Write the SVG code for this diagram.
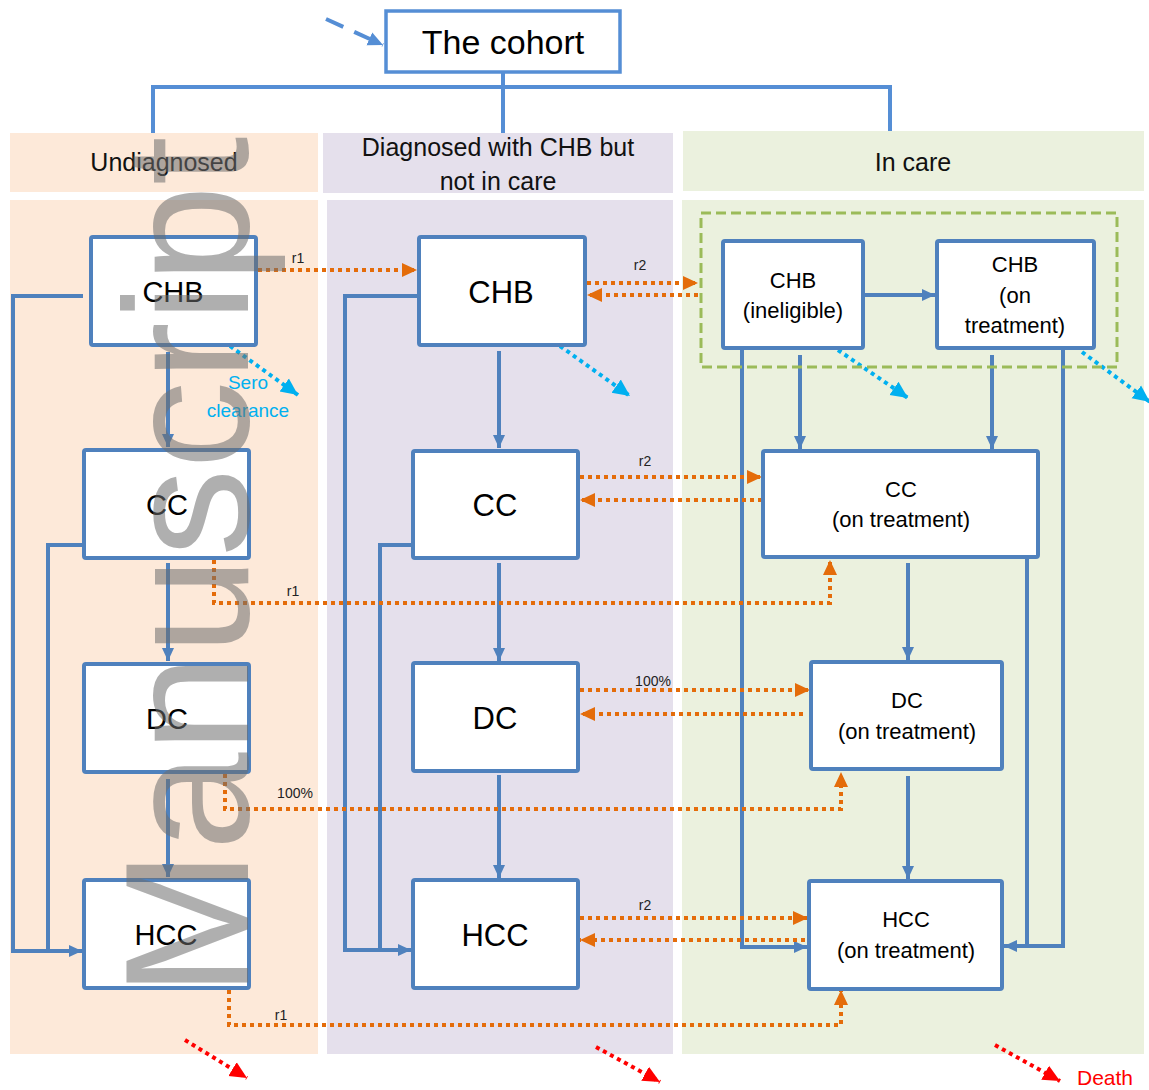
<svg xmlns="http://www.w3.org/2000/svg" width="1149" height="1090" viewBox="0 0 1149 1090">
<style>
.box{fill:#fff;stroke:#4F81BD;stroke-width:4}
.t{font-family:"Liberation Sans",Arial,sans-serif;fill:#000;text-anchor:middle}
.big{font-size:29px}
.sm{font-size:22px}
.lab{font-family:"Liberation Sans",Arial,sans-serif;font-size:14px;fill:#222;text-anchor:middle}
.hdr{font-family:"Liberation Sans",Arial,sans-serif;font-size:25px;fill:#111;text-anchor:middle}
.bl{fill:none;stroke:#4F81BD;stroke-width:4}
.tree{fill:none;stroke:#558ED5;stroke-width:4}
.or{fill:none;stroke:#E46C0A;stroke-width:4;stroke-dasharray:4 4}
.cy{fill:none;stroke:#00B0F0;stroke-width:4;stroke-dasharray:4 4}
.rd{fill:none;stroke:#FF0000;stroke-width:4;stroke-dasharray:4 4}
</style>
<defs>
<marker id="ab" markerUnits="userSpaceOnUse" markerWidth="14" markerHeight="14" refX="13" refY="7" orient="auto"><path d="M0,1 L13,7 L0,13 z" fill="#4F81BD"/></marker>
<marker id="at" markerUnits="userSpaceOnUse" markerWidth="16" markerHeight="16" refX="15" refY="8" orient="auto"><path d="M0,1 L15,8 L0,15 z" fill="#558ED5"/></marker>
<marker id="ao" markerUnits="userSpaceOnUse" markerWidth="16" markerHeight="16" refX="15" refY="8" orient="auto"><path d="M0,1 L15,8 L0,15 z" fill="#E46C0A"/></marker>
<marker id="ac" markerUnits="userSpaceOnUse" markerWidth="18" markerHeight="18" refX="17" refY="9" orient="auto"><path d="M0,1 L17,9 L0,17 z" fill="#00B0F0"/></marker>
<marker id="ar" markerUnits="userSpaceOnUse" markerWidth="18" markerHeight="18" refX="17" refY="9" orient="auto"><path d="M0,1 L17,9 L0,17 z" fill="#FF0000"/></marker>
</defs>

<g id="panels">
<rect x="10" y="133" width="308" height="59" fill="#FDE9D9"/>
<rect x="10" y="200" width="308" height="854" fill="#FDE9D9"/>
<rect x="323" y="133" width="350" height="60" fill="#E5E0EC"/>
<rect x="327" y="200" width="346" height="854" fill="#E5E0EC"/>
<rect x="683" y="131" width="461" height="60" fill="#EBF1DE"/>
<rect x="682" y="200" width="462" height="854" fill="#EBF1DE"/>
<text class="hdr" x="164" y="171">Undiagnosed</text>
<text class="hdr" x="498" y="156">Diagnosed with CHB but</text>
<text class="hdr" x="498" y="190">not in care</text>
<text class="hdr" x="913" y="171">In care</text>
</g>

<g id="connectors">
<path class="tree" d="M153,133 V87 H890 V131 M503,72 V133"/>
<path class="tree" d="M326,19 L383,45" stroke-dasharray="19 12" marker-end="url(#at)"/>
<!-- left column -->
<path class="bl" d="M168,352 V447" marker-end="url(#ab)"/>
<path class="bl" d="M168,563 V661" marker-end="url(#ab)"/>
<path class="bl" d="M168,779 V877" marker-end="url(#ab)"/>
<path class="bl" d="M83,296 H13 V951 H82" marker-end="url(#ab)"/>
<path class="bl" d="M84,545 H48 V951"/>
<!-- middle column -->
<path class="bl" d="M499,351 V448" marker-end="url(#ab)"/>
<path class="bl" d="M499,563 V661" marker-end="url(#ab)"/>
<path class="bl" d="M499,775 V878" marker-end="url(#ab)"/>
<path class="bl" d="M417,296 H345 V950 H411" marker-end="url(#ab)"/>
<path class="bl" d="M413,545 H380 V950"/>
<!-- right column -->
<path class="bl" d="M864,295 H935" marker-end="url(#ab)"/>
<path class="bl" d="M800,355 V449" marker-end="url(#ab)"/>
<path class="bl" d="M992,355 V449" marker-end="url(#ab)"/>
<path class="bl" d="M908,563 V660" marker-end="url(#ab)"/>
<path class="bl" d="M908,776 V879" marker-end="url(#ab)"/>
<path class="bl" d="M742,349 V947 H807" marker-end="url(#ab)"/>
<path class="bl" d="M1063,349 V946 H1004" marker-end="url(#ab)"/>
<path class="bl" d="M1027,558 V946"/>
<!-- orange transitions -->
<path class="or" d="M258,270 H417" marker-end="url(#ao)"/>
<path class="or" d="M587,283 H698" marker-end="url(#ao)"/>
<path class="or" d="M698,295 H587" marker-end="url(#ao)"/>
<path class="or" d="M580,477 H762" marker-end="url(#ao)"/>
<path class="or" d="M762,500 H580" marker-end="url(#ao)"/>
<path class="or" d="M214,560 V603 H830 V560" marker-end="url(#ao)"/>
<path class="or" d="M580,690 H810" marker-end="url(#ao)"/>
<path class="or" d="M803,714 H580" marker-end="url(#ao)"/>
<path class="or" d="M225,774 V809 H841 V772" marker-end="url(#ao)"/>
<path class="or" d="M580,918 H808" marker-end="url(#ao)"/>
<path class="or" d="M805,940 H580" marker-end="url(#ao)"/>
<path class="or" d="M229,990 V1025 H841 V990" marker-end="url(#ao)"/>
<text class="lab" x="298" y="263">r1</text>
<text class="lab" x="640" y="270">r2</text>
<text class="lab" x="645" y="466">r2</text>
<text class="lab" x="293" y="596">r1</text>
<text class="lab" x="653" y="686">100%</text>
<text class="lab" x="295" y="798">100%</text>
<text class="lab" x="645" y="910">r2</text>
<text class="lab" x="281" y="1020">r1</text>
<!-- sero clearance -->
<path class="cy" d="M230,346 L298,395" marker-end="url(#ac)"/>
<path class="cy" d="M560,346 L630,396" marker-end="url(#ac)"/>
<path class="cy" d="M838,350 L908,398" marker-end="url(#ac)"/>
<path class="cy" d="M1082,352 L1150,402" marker-end="url(#ac)"/>
<text x="248" y="389" font-family="Liberation Sans, Arial, sans-serif" font-size="19" fill="#00B0F0" text-anchor="middle">Sero</text>
<text x="248" y="417" font-family="Liberation Sans, Arial, sans-serif" font-size="19" fill="#00B0F0" text-anchor="middle">clearance</text>
<!-- death -->
<path class="rd" d="M185,1040 L247,1078" marker-end="url(#ar)"/>
<path class="rd" d="M596,1047 L660,1082" marker-end="url(#ar)"/>
<path class="rd" d="M995,1045 L1060,1081" marker-end="url(#ar)"/>
<text x="1105" y="1085" font-family="Liberation Sans, Arial, sans-serif" font-size="21" fill="#FF0000" text-anchor="middle">Death</text>
</g>

<g id="cohort"><rect x="386" y="11" width="234" height="61" fill="#fff" stroke="#558ED5" stroke-width="3.5"/><text class="t" x="503" y="54" font-size="34">The cohort</text></g>

<g id="u-chb"><rect class="box" x="91" y="237" width="165" height="108" rx="2"/><text class="t big" x="173" y="302">CHB</text></g>
<g id="u-cc"><rect class="box" x="84" y="450" width="165" height="108" rx="2"/><text class="t big" x="167" y="515">CC</text></g>
<g id="u-dc"><rect class="box" x="84" y="664" width="165" height="108" rx="2"/><text class="t big" x="167" y="729">DC</text></g>
<g id="u-hcc"><rect class="box" x="84" y="880" width="165" height="108" rx="2"/><text class="t big" x="166" y="945">HCC</text></g>

<g id="d-chb"><rect class="box" x="419" y="237" width="166" height="108" rx="2"/><text class="t" font-size="31" x="501" y="303">CHB</text></g>
<g id="d-cc"><rect class="box" x="413" y="451" width="165" height="107" rx="2"/><text class="t" font-size="31" x="495" y="516">CC</text></g>
<g id="d-dc"><rect class="box" x="413" y="663" width="165" height="108" rx="2"/><text class="t" font-size="31" x="495" y="729">DC</text></g>
<g id="d-hcc"><rect class="box" x="413" y="880" width="165" height="108" rx="2"/><text class="t" font-size="31" x="495" y="946">HCC</text></g>

<g id="care-group"><rect x="701" y="213" width="416" height="154" fill="none" stroke="#9BBB59" stroke-width="3" stroke-dasharray="10 5"/></g>
<g id="c-chb-inel"><rect class="box" x="723" y="241" width="140" height="107" rx="2"/><text class="t sm" x="793" y="288">CHB</text><text class="t sm" x="793" y="318">(ineligible)</text></g>
<g id="c-chb-tr"><rect class="box" x="937" y="241" width="157" height="107" rx="2"/><text class="t sm" x="1015" y="272">CHB</text><text class="t sm" x="1015" y="303">(on</text><text class="t sm" x="1015" y="333">treatment)</text></g>
<g id="c-cc"><rect class="box" x="763" y="451" width="275" height="106" rx="2"/><text class="t sm" x="901" y="497">CC</text><text class="t sm" x="901" y="527">(on treatment)</text></g>
<g id="c-dc"><rect class="box" x="811" y="662" width="191" height="107" rx="2"/><text class="t sm" x="907" y="708">DC</text><text class="t sm" x="907" y="739">(on treatment)</text></g>
<g id="c-hcc"><rect class="box" x="809" y="881" width="193" height="108" rx="2"/><text class="t sm" x="906" y="927">HCC</text><text class="t sm" x="906" y="958">(on treatment)</text></g>

<g id="watermark"><text transform="translate(248,997) rotate(-90)" font-family="Liberation Sans, Arial, sans-serif" font-size="176" fill="#6E6E6E" fill-opacity="0.55">Manuscript</text></g>
</svg>
